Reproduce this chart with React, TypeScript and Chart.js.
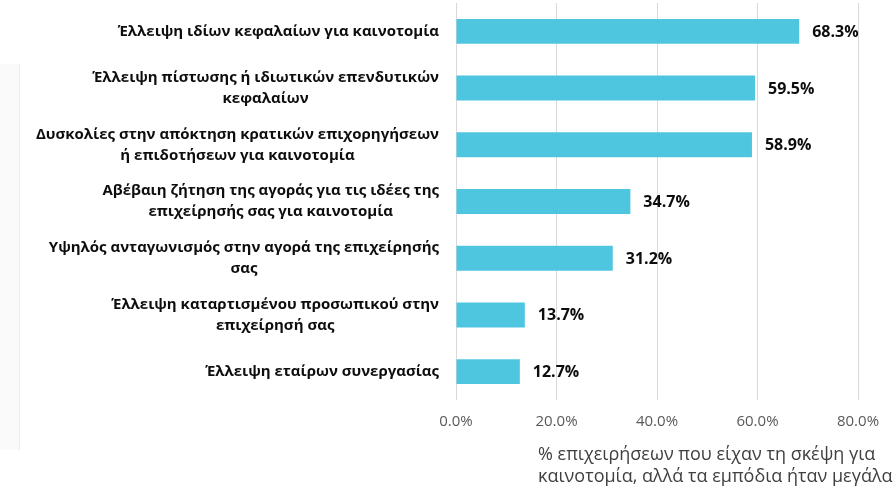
import React, { useEffect, useRef } from "react";
import { Chart, registerables } from "chart.js";

Chart.register(...registerables);

const categories: string[][] = [
  ["Έλλειψη ιδίων κεφαλαίων για καινοτομία"],
  ["Έλλειψη πίστωσης ή ιδιωτικών επενδυτικών", "κεφαλαίων"],
  ["Δυσκολίες στην απόκτηση κρατικών επιχορηγήσεων", "ή επιδοτήσεων για καινοτομία"],
  ["Αβέβαιη ζήτηση της αγοράς για τις ιδέες της", "επιχείρησής σας για καινοτομία"],
  ["Υψηλός ανταγωνισμός στην αγορά της επιχείρησής", "σας"],
  ["Έλλειψη καταρτισμένου προσωπικού στην", "επιχείρησή σας"],
  ["Έλλειψη εταίρων συνεργασίας"],
];
const values: number[] = [68.3, 59.5, 58.9, 34.7, 31.2, 13.7, 12.7];
const xTicks: number[] = [0, 20, 40, 60, 80];
const axisTitle: string[] = [
  "% επιχειρήσεων που είχαν τη σκέψη για",
  "καινοτομία, αλλά τα εμπόδια ήταν μεγάλα",
];

const FONT = "'Open Sans', 'Noto Sans', sans-serif";

const drawPlugin = {
  id: "customText",
  beforeDraw(chart: any) {
    const ctx = chart.ctx;
    ctx.save();
    ctx.fillStyle = "#FAFAFA";
    ctx.fillRect(0, 64, 19, 386);
    ctx.strokeStyle = "#EDEDED";
    ctx.lineWidth = 1;
    ctx.beginPath();
    ctx.moveTo(19.5, 64);
    ctx.lineTo(19.5, 450);
    ctx.stroke();
    ctx.restore();
  },
  afterDraw(chart: any) {
    const ctx = chart.ctx;
    const yScale = chart.scales.y;
    const xScale = chart.scales.x;
    ctx.save();
    // category labels
    ctx.font = `bold 15px ${FONT}`;
    ctx.fillStyle = "#0D0D0D";
    ctx.textAlign = "center";
    ctx.textBaseline = "middle";
    const right = 439;
    const lh = 21;
    categories.forEach((lines, i) => {
      const cy = yScale.getPixelForValue(i);
      const w = Math.max(...lines.map((l) => ctx.measureText(l).width));
      const cx = right - w / 2;
      const y0 = cy - ((lines.length - 1) * lh) / 2;
      lines.forEach((l, j) => ctx.fillText(l, cx, y0 + j * lh));
    });
    // data labels
    ctx.font = `bold 16px ${FONT}`;
    ctx.textAlign = "left";
    values.forEach((v, i) => {
      const x = xScale.getPixelForValue(v) + 13;
      const y = yScale.getPixelForValue(i);
      ctx.fillText(v.toFixed(1) + "%", x, y + 1);
    });
    // axis title
    ctx.font = `18px ${FONT}`;
    ctx.fillStyle = "#404040";
    ctx.textAlign = "left";
    axisTitle.forEach((l, j) => ctx.fillText(l, 538, 455 + j * 22));
    ctx.restore();
  },
};

export default function App() {
  const ref = useRef<HTMLCanvasElement | null>(null);
  useEffect(() => {
    if (!ref.current) return;
    const chart = new Chart(ref.current, {
      type: "bar",
      data: {
        labels: categories.map((c) => c.join(" ")),
        datasets: [
          {
            data: values,
            backgroundColor: "#4FC6E0",
            borderWidth: 0,
            barPercentage: 0.44,
            categoryPercentage: 1,
          },
        ],
      },
      options: {
        indexAxis: "y",
        animation: false,
        responsive: false,
        devicePixelRatio: 1,
        layout: { padding: { left: 456, right: 38, top: 3, bottom: 0 } },
        plugins: { legend: { display: false }, tooltip: { enabled: false } },
        scales: {
          y: { display: false },
          x: {
            min: 0,
            max: 80,
            afterBuildTicks: (scale: any) => {
              scale.ticks = xTicks.map((v) => ({ value: v }));
            },
            afterFit: (scale: any) => {
              scale.height = 92;
            },
            grid: { color: "#D9D9D9", drawTicks: false },
            border: { display: false },
            ticks: {
              padding: 13,
              color: "#595959",
              font: { family: FONT, size: 15 },
              callback: (v: any) => Number(v).toFixed(1) + "%",
            },
          },
        },
      },
      plugins: [drawPlugin],
    });
    return () => chart.destroy();
  }, []);
  return (
    <div style={{ position: "fixed", left: 0, top: 0, width: 896, height: 492, background: "#fff" }}>
      <canvas ref={ref} width={896} height={492} />
    </div>
  );
}
